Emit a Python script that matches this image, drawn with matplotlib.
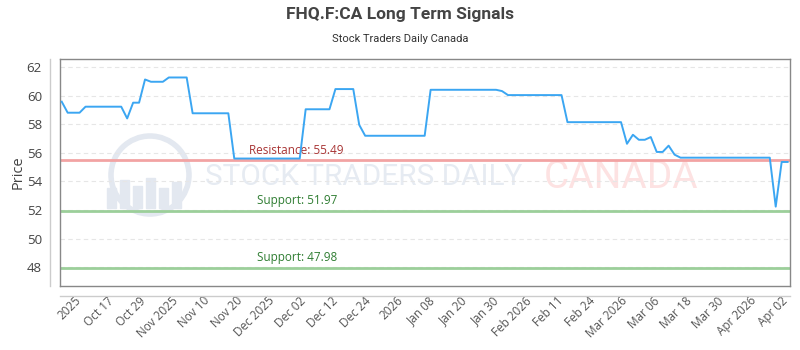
import matplotlib
matplotlib.use("Agg")
import matplotlib.pyplot as plt
from matplotlib.lines import Line2D
from matplotlib.patches import Ellipse, Rectangle
from matplotlib import font_manager
import numpy as np

# price series (one value per trading day)
prices = [59.57, 58.8, 58.8, 58.8, 59.22, 59.22, 59.22, 59.22, 59.22, 59.22,
          59.22, 58.4, 59.5, 59.5, 61.12, 60.96, 60.96, 60.96, 61.26, 61.26,
          61.26, 61.26, 58.76, 58.76, 58.76, 58.76, 58.76, 58.76, 58.76, 55.6,
          55.6, 55.6, 55.6, 55.6, 55.6, 55.6, 55.6, 55.6, 55.6, 55.6,
          55.6, 59.04, 59.04, 59.04, 59.04, 59.04, 60.45, 60.45, 60.45, 60.45,
          57.95, 57.19, 57.19, 57.19, 57.19, 57.19, 57.19, 57.19, 57.19, 57.19,
          57.19, 57.19, 60.4, 60.4, 60.4, 60.4, 60.4, 60.4, 60.4, 60.4,
          60.4, 60.4, 60.4, 60.4, 60.31, 60.03, 60.03, 60.03, 60.03, 60.03,
          60.03, 60.03, 60.03, 60.03, 60.03, 58.14, 58.14, 58.14, 58.14, 58.14,
          58.14, 58.14, 58.14, 58.14, 58.14, 56.63, 57.26, 56.91, 56.91, 57.1,
          56.06, 56.06, 56.5, 55.87, 55.66, 55.66, 55.66, 55.66, 55.66, 55.66,
          55.66, 55.66, 55.66, 55.66, 55.66, 55.66, 55.66, 55.66, 55.66, 55.66,
          52.24, 55.36, 55.36]

tick_labels = ["2025", "Oct 17", "Oct 29", "Nov 2025", "Nov 10", "Nov 20",
               "Dec 2025", "Dec 02", "Dec 12", "Dec 24", "2026", "Jan 08",
               "Jan 20", "Jan 30", "Feb 2026", "Feb 11", "Feb 24", "Mar 2026",
               "Mar 06", "Mar 18", "Mar 30", "Apr 2026", "Apr 02"]

resistance = [55.49]
supports = [51.97, 47.98]

installed = {f.name for f in font_manager.fontManager.ttflist}
body = "Open Sans" if "Open Sans" in installed else "DejaVu Sans"
head = "Roboto" if "Roboto" in installed else "DejaVu Sans"

plt.rcParams['font.family'] = [body, 'DejaVu Sans']

fig = plt.figure(figsize=(8, 3.5), dpi=100)
ax = fig.add_axes([60 / 800, 1 - 286 / 350, 730 / 800, 227 / 350])
renderer = fig.canvas.get_renderer()


def fit_width(txt, width_px):
    # shrink/grow a text so it spans the wanted number of pixels
    w = txt.get_window_extent(renderer).width
    txt.set_fontsize(txt.get_fontsize() * width_px / w)


x = np.arange(len(prices))
ax.set_xlim(-0.29, 122.4)
ax.set_ylim(46.7, 62.55)

# watermark
wm = '#e3e8f0'
ax.add_patch(Ellipse((90 / 730, 111 / 227), 78 / 730, 78 / 227, transform=ax.transAxes,
                     fill=False, lw=4, ec=wm, zorder=0))
for bx, bh in [(107, 20), (120, 28), (133, 22), (146, 30), (159, 20), (172, 26)]:
    ax.add_patch(Rectangle(((bx - 60) / 730, (286 - 208) / 227), 9 / 730, bh / 227,
                           transform=ax.transAxes, color=wm, zorder=0))
t1 = ax.text((205 - 60) / 730, 0.48, "STOCK TRADERS DAILY", transform=ax.transAxes,
             fontsize=26, family=head, color='#e6ebf2', va='center', ha='left', zorder=0)
t2 = ax.text((544 - 60) / 730, 0.48, "CANADA", transform=ax.transAxes,
             fontsize=26, family=head, color='#fde2e2', va='center', ha='left', zorder=0)
fit_width(t1, 318)
fit_width(t2, 154)

ax.yaxis.grid(True, color='#e6e6e6', ls=(0, (4, 3)), lw=0.8)
ax.set_axisbelow(True)

for r in resistance:
    ax.axhline(r, color='#f2a3a3', lw=2, zorder=2)
    ax.text(39.5, r + 0.25, f"Resistance: {r:.2f}", color='#a83434',
            fontsize=8.5, ha='center', va='bottom')
for s in supports:
    ax.axhline(s, color='#9ccf9a', lw=2, zorder=2)
    ax.text(39.5, s + 0.25, f"Support: {s:.2f}", color='#2f7d32',
            fontsize=8.5, ha='center', va='bottom')

ax.plot(x, prices, color='#3ba6f2', lw=1.4, zorder=3)

ax.set_yticks(np.arange(48, 63, 2))
ax.set_xticks(np.linspace(2.2, 121.0, len(tick_labels)))
ax.set_xticklabels(tick_labels, rotation=45, ha='right', rotation_mode='anchor')
ax.tick_params(axis='y', length=0, pad=13, labelsize=9.5, labelcolor='#444444')
ax.tick_params(axis='x', length=0, pad=6, labelsize=8.5, labelcolor='#555555')

for sp in ax.spines.values():
    sp.set_color('#888888')
    sp.set_linewidth(1)

ax.set_ylabel("Price", fontsize=10.5, color='#444444', labelpad=1)

# offset axis lines
fig.add_artist(Line2D([50 / 800, 50 / 800], [1 - 59 / 350, 1 - 286 / 350],
                      color='#cccccc', lw=1))
fig.add_artist(Line2D([60 / 800, 790 / 800], [1 - 296 / 350, 1 - 296 / 350],
                      color='#cccccc', lw=1))

title = fig.text(0.5, 1 - 15 / 350, "FHQ.F:CA Long Term Signals", ha='center', va='center',
                 fontsize=12, fontweight='bold', family=head, color='#444444')
fit_width(title, 226)
fig.text(0.5, 1 - 39 / 350, "Stock Traders Daily Canada", ha='center', va='center',
         fontsize=8, family=head, color='#333333')

fig.savefig("out.png", dpi=100)
